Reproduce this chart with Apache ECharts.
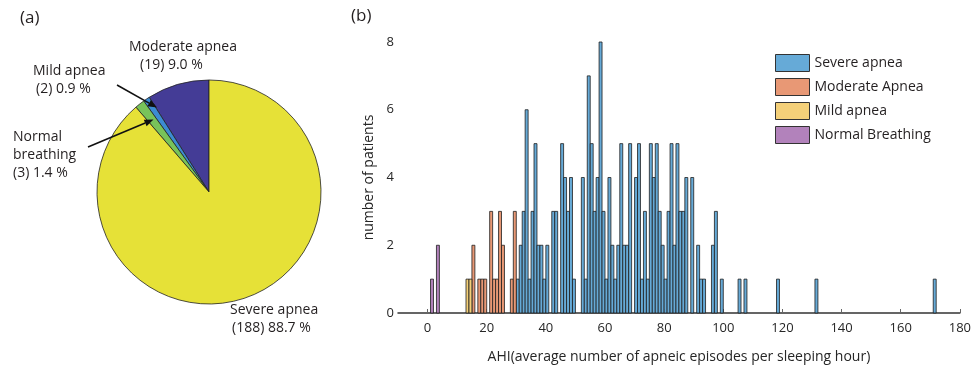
<!DOCTYPE html>
<html>
<head>
<meta charset="utf-8">
<script src="https://cdn.jsdelivr.net/npm/echarts@6/dist/echarts.min.js"></script>
<style>
html,body{margin:0;padding:0;background:#fff;}
#c{width:974px;height:369px;}
</style>
</head>
<body>
<div id="c"></div>
<script>
// ---------- data ----------
// (a) pie: patients per class
const pieNames = ['Moderate apnea', 'Mild apnea', 'Normal breathing', 'Severe apnea'];
const pieLabelNames = ['Moderate apnea', 'Mild apnea', 'Normal\nbreathing', 'Severe apnea'];
const pieCounts = [19, 2, 3, 188];
const pieColors = ['#443c96', '#3c8cd2', '#78c35a', '#e6e137'];

// (b) histogram: bin start (AHI), count per bin, bin width 1
const binWidth = 1;
const normalBins = [1, 3];
const normalCounts = [1, 2];
const mildBins = [13, 14];
const mildCounts = [1, 1];
const moderateBins = [15, 17, 18, 19, 21, 22, 23, 24, 25, 28, 29];
const moderateCounts = [2, 1, 1, 1, 3, 1, 1, 3, 2, 1, 3];
const severeBins = [30, 31, 32, 33, 34, 35, 36, 37, 38, 39, 40, 42, 43, 45, 46, 47, 48, 49,
  52, 53, 54, 55, 56, 57, 58, 59, 60, 61, 62, 63, 64, 65, 66, 67, 68,
  70, 71, 72, 73, 74, 75, 76, 77, 78, 79, 80, 81, 82, 83, 84, 85, 86, 87,
  89, 91, 92, 93, 96, 97, 99, 105, 107, 118, 131, 171];
const severeCounts = [1, 2, 3, 6, 1, 3, 5, 2, 2, 1, 2, 3, 3, 5, 4, 3, 4, 1,
  4, 1, 7, 5, 3, 4, 8, 3, 1, 4, 2, 1, 2, 5, 2, 2, 5,
  4, 5, 1, 3, 1, 5, 4, 5, 3, 2, 1, 3, 5, 2, 5, 3, 3, 4,
  4, 2, 1, 1, 2, 3, 1, 1, 1, 1, 1, 1];
const xTicks = [0, 20, 40, 60, 80, 100, 120, 140, 160, 180];

const histNames = ['Severe apnea', 'Moderate Apnea', 'Mild apnea', 'Normal Breathing'];
const histColors = ['#66aad7', '#e89875', '#f4d079', '#b282bb'];

// ---------- layout ----------
const FONT = 'Open Sans';
const TXT = '#231f20';
const labelLayouts = [
  {x: 129, y: 38, pad: 11},
  {x: 33, y: 62, pad: 3},
  {x: 13, y: 128, pad: 0},
  {x: 230, y: 301, pad: 2}
];

const total = pieCounts.reduce((a, b) => a + b, 0);
const pieData = pieNames.map((n, i) => ({
  name: n,
  value: pieCounts[i],
  itemStyle: {color: pieColors[i]},
  label: {
    formatter: () => '{a|' + pieLabelNames[i].split('\n').join('}\n{a|') + '}\n{b' + i + '|(' + pieCounts[i] + ') ' + (pieCounts[i] / total * 100).toFixed(1) + ' %}'
  }
}));

const richStyles = {a: {fontFamily: FONT, fontSize: 14, lineHeight: 18, color: TXT}};
labelLayouts.forEach((l, i) => {
  richStyles['b' + i] = {fontFamily: FONT, fontSize: 14, lineHeight: 18, color: TXT, padding: [0, 0, 0, l.pad]};
});

function histSeries(name, bins, counts, color) {
  return {
    name: name,
    type: 'custom',
    xAxisIndex: 0, yAxisIndex: 0,
    z: 3,
    itemStyle: {color: color, borderColor: '#1e1e1e', borderWidth: 1},
    data: bins.map((b, i) => [b, counts[i]]),
    renderItem: function (params, api) {
      const p0 = api.coord([api.value(0), 0]);
      const p1 = api.coord([api.value(0) + binWidth, api.value(1)]);
      return {
        type: 'rect',
        shape: {x: p0[0], y: p1[1], width: p1[0] - p0[0], height: p0[1] - p1[1]},
        style: {fill: color, stroke: '#1e1e1e', lineWidth: 0.8}
      };
    }
  };
}

function arrow(x1, y1, x2, y2) {
  const dx = x2 - x1, dy = y2 - y1, L = Math.hypot(dx, dy);
  const ux = dx / L, uy = dy / L, hl = 9, hw = 3.6;
  const bx = x2 - ux * hl, by = y2 - uy * hl;
  return [
    {type: 'line', z: 100, shape: {x1: x1, y1: y1, x2: bx, y2: by}, style: {stroke: '#111', lineWidth: 1.6}},
    {type: 'polygon', z: 100, shape: {points: [[x2, y2], [bx - uy * hw, by + ux * hw], [bx + uy * hw, by - ux * hw]]}, style: {fill: '#111'}}
  ];
}

const chart = echarts.init(document.getElementById('c'), null, {renderer: 'canvas'});
chart.setOption({
  animation: false,
  backgroundColor: '#fff',
  textStyle: {fontFamily: FONT},
  grid: {left: 398, right: 11, top: 42, bottom: 53},
  xAxis: {
    type: 'value', min: -10, max: 180,
    name: 'AHI(average number of apneic episodes per sleeping hour)',
    nameLocation: 'middle', nameGap: 37,
    nameTextStyle: {fontFamily: FONT, fontSize: 14, color: '#262626'},
    axisLine: {show: true, lineStyle: {color: '#333', width: 1.5}},
    axisTick: {show: true, inside: true, length: 4, customValues: xTicks, lineStyle: {color: '#666'}},
    axisLabel: {customValues: xTicks, fontFamily: FONT, fontSize: 13, color: '#262626', margin: 9},
    splitLine: {show: false}
  },
  yAxis: {
    type: 'value', min: 0, max: 8, interval: 2,
    name: 'number of patients',
    nameLocation: 'middle', nameGap: 19,
    nameTextStyle: {fontFamily: FONT, fontSize: 14, color: '#262626'},
    axisLine: {show: false},
    axisTick: {show: false},
    axisLabel: {fontFamily: FONT, fontSize: 13, color: '#262626', margin: 4},
    splitLine: {show: false}
  },
  legend: {
    data: histNames,
    orient: 'vertical', left: 775, top: 54,
    itemWidth: 34, itemHeight: 17, itemGap: 6, padding: 0,
    icon: 'rect',
    itemStyle: {borderColor: '#333', borderWidth: 1},
    textStyle: {fontFamily: FONT, fontSize: 14, color: TXT}
  },
  series: [
    histSeries(histNames[0], severeBins, severeCounts, histColors[0]),
    histSeries(histNames[1], moderateBins, moderateCounts, histColors[1]),
    histSeries(histNames[2], mildBins, mildCounts, histColors[2]),
    histSeries(histNames[3], normalBins, normalCounts, histColors[3]),
    {
      type: 'pie',
      z: 1,
      center: [209, 192], radius: 112,
      startAngle: 90, clockwise: false,
      avoidLabelOverlap: false,
      itemStyle: {borderColor: '#222', borderWidth: 0.8},
      emphasis: {disabled: true},
      label: {show: true, position: 'outside', rich: richStyles},
      labelLine: {show: false},
      labelLayout: function (params) {
        const l = labelLayouts[params.dataIndex];
        return {x: l.x, y: l.y, align: 'left', verticalAlign: 'top'};
      },
      data: pieData
    }
  ],
  graphic: {
    elements: [
      {type: 'text', z: 100, left: 20, top: 10, style: {text: '(a)', fontFamily: FONT, fontSize: 17, fill: TXT}},
      {type: 'text', z: 100, left: 351, top: 8, style: {text: '(b)', fontFamily: FONT, fontSize: 17, fill: TXT}}
    ].concat(arrow(117, 85, 157, 107.5), arrow(88, 147, 153.5, 119.5))
  }
});
</script>
</body>
</html>
